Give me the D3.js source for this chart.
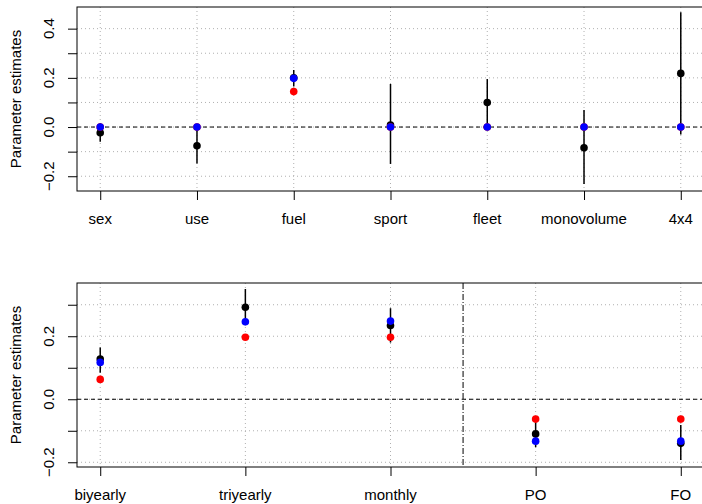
<!DOCTYPE html>
<html lang="en">
<head>
<meta charset="UTF-8">
<title>Parameter estimates</title>
<script src="https://d3js.org/d3.v7.min.js"></script>
<style>
    body { margin: 0; background: white; }
    svg { display: block; font-family: "Liberation Sans", Arial, sans-serif; }
    .grid { stroke: #b0b0b0; stroke-dasharray: 1 3; stroke-width: 1; }
    .lab { font-size: 15px; fill: black; }
</style>
</head>
<body>
<script>
    // top panel data
    const topCats = ["sex", "use", "fuel", "sport", "fleet", "monovolume", "4x4"];
    const topBlack = [-0.023, -0.076, 0.2, 0.008, 0.1, -0.084, 0.218];
    const topLo = [-0.06, -0.148, 0.165, -0.15, 0, -0.232, -0.03];
    const topHi = [0.015, 0, 0.232, 0.175, 0.195, 0.069, 0.467];
    const topRed = [0, 0, 0.144, 0, 0, 0, 0];
    const topBlue = [0, 0, 0.198, 0, 0, 0, 0];
    const topTicks = [-0.2, -0.1, 0, 0.1, 0.2, 0.3, 0.4];
    const topLabels = ["\u22120.2", "0.0", "0.2", "0.4"];

    // bottom panel data
    const botCats = ["biyearly", "triyearly", "monthly", "PO", "FO"];
    const botBlack = [0.128, 0.292, 0.234, -0.11, -0.14];
    const botLo = [0.084, 0.235, 0.18, -0.152, -0.193];
    const botHi = [0.164, 0.35, 0.289, -0.07, -0.082];
    const botRed = [0.063, 0.197, 0.197, -0.063, -0.063];
    const botBlue = [0.117, 0.246, 0.248, -0.133, -0.133];
    const botTicks = [-0.2, -0.1, 0, 0.1, 0.2, 0.3];
    const botLabels = ["\u22120.2", "0.0", "0.2"];

    const W = 702, H = 504;
    const svg = d3.select("body").append("svg").attr("width", W).attr("height", H);

    function panel(cfg) {
        const n = cfg.cats.length;
        const pad = (n - 1) * 0.04;
        const x = d3.scaleLinear().domain([1 - pad, n + pad]).range([77, 704]);
        const y = d3.scaleLinear().domain(cfg.ydom).range([cfg.bottom, cfg.top]);
        const g = svg.append("g");
        const idx = d3.range(n);

        // grid
        g.selectAll(".hg").data(cfg.ticks).enter().append("line")
            .attr("class", "grid")
            .attr("x1", 77).attr("x2", 704)
            .attr("y1", d => y(d)).attr("y2", d => y(d));
        g.selectAll(".vg").data(idx).enter().append("line")
            .attr("class", "grid")
            .attr("x1", i => x(i + 1)).attr("x2", i => x(i + 1))
            .attr("y1", cfg.top).attr("y2", cfg.bottom);

        // zero line
        g.append("line")
            .attr("x1", 77).attr("x2", 704)
            .attr("y1", y(0)).attr("y2", y(0))
            .attr("stroke", "black").attr("stroke-dasharray", "4 3");

        if (cfg.split) {
            g.append("line")
                .attr("x1", x(cfg.split)).attr("x2", x(cfg.split))
                .attr("y1", cfg.top).attr("y2", cfg.bottom)
                .attr("stroke", "black").attr("stroke-dasharray", "6 2 1 2");
        }

        // error bars
        g.selectAll(".eb").data(idx).enter().append("line")
            .attr("x1", i => x(i + 1)).attr("x2", i => x(i + 1))
            .attr("y1", i => y(cfg.lo[i])).attr("y2", i => y(cfg.hi[i]))
            .attr("stroke", "black").attr("stroke-width", 1.5);

        [[cfg.black, "black"], [cfg.red, "#ff0000"], [cfg.blue, "#0000ff"]].forEach(([vals, col]) => {
            g.selectAll(null).data(idx).enter().append("circle")
                .attr("cx", i => x(i + 1)).attr("cy", i => y(vals[i]))
                .attr("r", 3.8).attr("fill", col);
        });

        // box
        g.append("rect")
            .attr("x", 77).attr("y", cfg.top)
            .attr("width", 704 - 77).attr("height", cfg.bottom - cfg.top)
            .attr("fill", "none").attr("stroke", "black");

        // y axis
        const ya = g.append("g").attr("transform", "translate(77,0)")
            .call(d3.axisLeft(y).tickValues(cfg.ticks).tickSize(9).tickFormat(""));
        ya.select(".domain").remove();
        ya.selectAll("line").attr("stroke", "black");
        g.selectAll(".yl").data(cfg.labels).enter().append("text")
            .attr("class", "lab")
            .attr("text-anchor", "middle")
            .attr("transform", d => "translate(54," + y(+d.replace("\u2212", "-")) + ") rotate(-90)")
            .text(d => d);

        // x axis
        const xa = g.append("g").attr("transform", "translate(0," + cfg.bottom + ")")
            .call(d3.axisBottom(x).tickValues(idx.map(i => i + 1)).tickSize(9).tickFormat(""));
        xa.select(".domain").remove();
        xa.selectAll("line").attr("stroke", "black");
        g.selectAll(".xl").data(idx).enter().append("text")
            .attr("class", "lab")
            .attr("text-anchor", "middle")
            .attr("x", i => x(i + 1)).attr("y", cfg.bottom + 33)
            .text(i => cfg.cats[i]);

        g.append("text")
            .attr("class", "lab")
            .attr("text-anchor", "middle")
            .attr("transform", "translate(21," + (cfg.top + cfg.bottom) / 2 + ") rotate(-90)")
            .text("Parameter estimates");
    }

    panel({
        cats: topCats, black: topBlack, lo: topLo, hi: topHi, red: topRed, blue: topBlue,
        ticks: topTicks, labels: topLabels, ydom: [-0.26, 0.488], top: 7, bottom: 191
    });
    panel({
        cats: botCats, black: botBlack, lo: botLo, hi: botHi, red: botRed, blue: botBlue,
        ticks: botTicks, labels: botLabels, ydom: [-0.215, 0.369], top: 283, bottom: 467, split: 3.5
    });
</script>
</body>
</html>
